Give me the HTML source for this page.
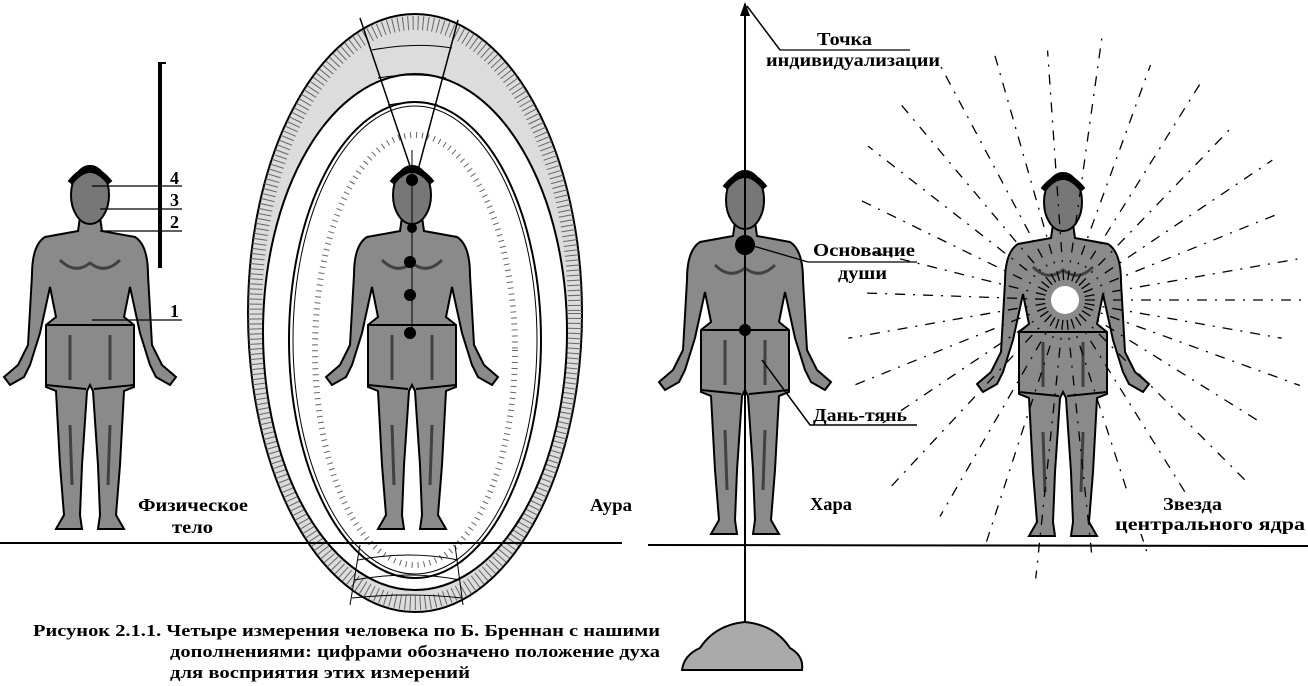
<!DOCTYPE html>
<html><head><meta charset="utf-8"><style>
html,body{margin:0;padding:0;background:#fff;}
svg{display:block;}
text{font-family:"Liberation Serif",serif;font-weight:bold;fill:#000;}
</style></head><body>
<svg width="1308" height="686" viewBox="0 0 1308 686" xmlns="http://www.w3.org/2000/svg">
<defs>
<g id="man">
  <path d="M -10,52 L -12,66 L -45,72 Q -58,80 -58,110 L -62,180 L -72,200 L -86,212 L -80,220 L -66,212 L -60,200 L -50,168 L -40,122 L -34,152 L -44,160 L -44,222 L -34,226 L -30,300 L -26,350 L -34,364 L -8,364 L -10,350 L -8,300 L -3,226 L 0,220 L 3,226 L 8,300 L 10,350 L 8,364 L 34,364 L 26,350 L 30,300 L 34,226 L 44,222 L 44,160 L 34,152 L 40,122 L 50,168 L 60,200 L 66,212 L 80,220 L 86,212 L 72,200 L 62,180 L 58,110 Q 58,80 45,72 L 12,66 L 10,52 Z" fill="#8a8a8a" stroke="#000" stroke-width="2"/>
  <ellipse cx="0" cy="30" rx="19" ry="29" fill="#777" stroke="#000" stroke-width="2"/>
  <path d="M -20,18 Q 0,-8 20,18" fill="none" stroke="#000" stroke-width="6"/>
  <path d="M -43,160 L 43,160 M -44,220 L -4,224 M 4,224 L 44,220" stroke="#000" stroke-width="2"/>
  <path d="M -30,95 Q -15,110 0,98 Q 15,110 30,95 M -20,170 L -20,215 M 20,170 L 20,215 M -20,260 L -18,320 M 20,260 L 18,320" stroke="#222" stroke-width="3" fill="none" opacity="0.7"/>
</g>
</defs>

<!-- Left figure -->
<use href="#man" transform="translate(90,165)"/>
<line x1="160" y1="62" x2="160" y2="268" stroke="#000" stroke-width="4"/>
<line x1="160" y1="63" x2="166" y2="63" stroke="#000" stroke-width="2"/>
<g stroke="#000" stroke-width="1.3">
<line x1="92" y1="186" x2="182" y2="186"/>
<line x1="100" y1="209" x2="182" y2="209"/>
<line x1="100" y1="231" x2="182" y2="231"/>
<line x1="92" y1="320" x2="182" y2="320"/>
</g>
<text x="170" y="184" font-size="18">4</text>
<text x="170" y="206" font-size="18">3</text>
<text x="170" y="228" font-size="18">2</text>
<text x="170" y="317" font-size="18">1</text>
<text x="138" y="511" font-size="18" textLength="110" lengthAdjust="spacingAndGlyphs">Физическое</text>
<text x="172" y="533" font-size="18" textLength="41" lengthAdjust="spacingAndGlyphs">тело</text>

<!-- Aura -->
<ellipse cx="415" cy="313" rx="167" ry="299" fill="#dcdcdc" stroke="#000" stroke-width="2"/>
<ellipse cx="415" cy="313" rx="160" ry="290" fill="none" stroke="#666" stroke-width="14" stroke-dasharray="1 4"/>
<ellipse cx="415" cy="332" rx="152" ry="258" fill="#fff" stroke="#000" stroke-width="2"/>
<ellipse cx="415" cy="340" rx="126" ry="238" fill="none" stroke="#000" stroke-width="2"/>
<ellipse cx="415" cy="340" rx="122" ry="234" fill="none" stroke="#000" stroke-width="1"/>
<ellipse cx="415" cy="350" rx="100" ry="215" fill="none" stroke="#666" stroke-width="6" stroke-dasharray="1 5"/>
<path d="M 360,18 L 412,172 M 458,20 L 418,170" fill="none" stroke="#000" stroke-width="1.5"/>
<g stroke="#000" stroke-width="1" fill="none">
<path d="M 372,50 Q 415,42 452,48"/><path d="M 378,78 Q 415,72 446,78"/><path d="M 388,105 Q 415,100 438,105"/>
<path d="M 360,545 L 350,605 M 455,545 L 463,605"/>
<path d="M 358,560 Q 410,550 458,560"/><path d="M 354,580 Q 410,570 460,580"/><path d="M 352,598 Q 410,592 462,598"/>
</g>
<use href="#man" transform="translate(412,165)"/>
<line x1="412" y1="150" x2="412" y2="335" stroke="#000" stroke-width="1"/>
<g fill="#000"><circle cx="412" cy="180" r="6"/><circle cx="412" cy="228" r="5"/><circle cx="410" cy="262" r="6"/><circle cx="410" cy="295" r="6"/><circle cx="410" cy="333" r="6"/></g>
<text x="590" y="511" font-size="18" textLength="42" lengthAdjust="spacingAndGlyphs">Аура</text>

<line x1="0" y1="543" x2="622" y2="543" stroke="#000" stroke-width="2"/>
<line x1="648" y1="545" x2="1308" y2="546" stroke="#000" stroke-width="2"/>

<!-- Hara -->
<use href="#man" transform="translate(745,170)"/>
<line x1="745" y1="4" x2="745" y2="640" stroke="#000" stroke-width="2"/>
<path d="M 745,2 L 740,16 L 750,16 Z" fill="#000"/>
<line x1="747" y1="6" x2="780" y2="50" stroke="#000" stroke-width="1.5"/>
<line x1="780" y1="50" x2="910" y2="50" stroke="#000" stroke-width="1.3"/>
<circle cx="745" cy="245" r="10" fill="#000"/>
<circle cx="745" cy="330" r="6" fill="#000"/>
<path d="M 750,245 L 808,262 L 917,262" fill="none" stroke="#000" stroke-width="1.3"/>
<path d="M 762,360 L 810,425 L 917,425" fill="none" stroke="#000" stroke-width="1.5"/>
<path d="M 682,670 Q 684,655 700,648 Q 715,625 745,622 Q 775,625 790,648 Q 804,656 802,670 Z" fill="#aaa" stroke="#000" stroke-width="2"/>
<text x="817" y="45" font-size="18" textLength="55" lengthAdjust="spacingAndGlyphs">Точка</text>
<text x="766" y="66" font-size="18" textLength="174" lengthAdjust="spacingAndGlyphs">индивидуализации</text>
<text x="813" y="256" font-size="18" textLength="102" lengthAdjust="spacingAndGlyphs">Основание</text>
<text x="838" y="279" font-size="18" textLength="49" lengthAdjust="spacingAndGlyphs">души</text>
<text x="813" y="421" font-size="18" textLength="94" lengthAdjust="spacingAndGlyphs">Дань-тянь</text>
<text x="810" y="510" font-size="18" textLength="42" lengthAdjust="spacingAndGlyphs">Хара</text>

<!-- Star -->
<use href="#man" transform="translate(1063,172)"/>
<g transform="translate(1065,300)" stroke="#000" stroke-width="1.3" stroke-dasharray="10 8 2 8">
<line x1="20" y1="0" x2="240" y2="0" transform="rotate(0)"/>
<line x1="20" y1="0" x2="220" y2="0" transform="rotate(10)"/>
<line x1="20" y1="0" x2="250" y2="0" transform="rotate(20)"/>
<line x1="20" y1="0" x2="230" y2="0" transform="rotate(32)"/>
<line x1="20" y1="0" x2="260" y2="0" transform="rotate(45)"/>
<line x1="20" y1="0" x2="250" y2="0" transform="rotate(58)"/>
<line x1="20" y1="0" x2="270" y2="0" transform="rotate(72)"/>
<line x1="20" y1="0" x2="260" y2="0" transform="rotate(84)"/>
<line x1="20" y1="0" x2="280" y2="0" transform="rotate(96)"/>
<line x1="20" y1="0" x2="260" y2="0" transform="rotate(108)"/>
<line x1="20" y1="0" x2="250" y2="0" transform="rotate(120)"/>
<line x1="20" y1="0" x2="260" y2="0" transform="rotate(133)"/>
<line x1="20" y1="0" x2="220" y2="0" transform="rotate(146)"/>
<line x1="20" y1="0" x2="230" y2="0" transform="rotate(158)"/>
<line x1="20" y1="0" x2="220" y2="0" transform="rotate(170)"/>
<line x1="20" y1="0" x2="200" y2="0" transform="rotate(182)"/>
<line x1="20" y1="0" x2="220" y2="0" transform="rotate(194)"/>
<line x1="20" y1="0" x2="230" y2="0" transform="rotate(206)"/>
<line x1="20" y1="0" x2="250" y2="0" transform="rotate(218)"/>
<line x1="20" y1="0" x2="260" y2="0" transform="rotate(230)"/>
<line x1="20" y1="0" x2="270" y2="0" transform="rotate(242)"/>
<line x1="20" y1="0" x2="260" y2="0" transform="rotate(254)"/>
<line x1="20" y1="0" x2="250" y2="0" transform="rotate(266)"/>
<line x1="20" y1="0" x2="270" y2="0" transform="rotate(278)"/>
<line x1="20" y1="0" x2="250" y2="0" transform="rotate(290)"/>
<line x1="20" y1="0" x2="260" y2="0" transform="rotate(302)"/>
<line x1="20" y1="0" x2="240" y2="0" transform="rotate(314)"/>
<line x1="20" y1="0" x2="250" y2="0" transform="rotate(326)"/>
<line x1="20" y1="0" x2="230" y2="0" transform="rotate(338)"/>
<line x1="20" y1="0" x2="240" y2="0" transform="rotate(350)"/>
</g>
<circle cx="1065" cy="300" r="14" fill="#fff"/>
<rect x="1112" y="492" width="196" height="42" fill="#fff"/>
<text x="1163" y="510" font-size="18" textLength="59" lengthAdjust="spacingAndGlyphs">Звезда</text>
<text x="1115" y="530" font-size="18" textLength="190" lengthAdjust="spacingAndGlyphs">центрального ядра</text>

<!-- Caption -->
<text x="33" y="636" font-size="17" textLength="627" lengthAdjust="spacingAndGlyphs">Рисунок 2.1.1.  Четыре измерения человека по Б. Бреннан с нашими</text>
<text x="170" y="657" font-size="17" textLength="490" lengthAdjust="spacingAndGlyphs">дополнениями: цифрами обозначено  положение духа</text>
<text x="170" y="678" font-size="17" textLength="300" lengthAdjust="spacingAndGlyphs">для восприятия этих измерений</text>
</svg>
</body></html>
